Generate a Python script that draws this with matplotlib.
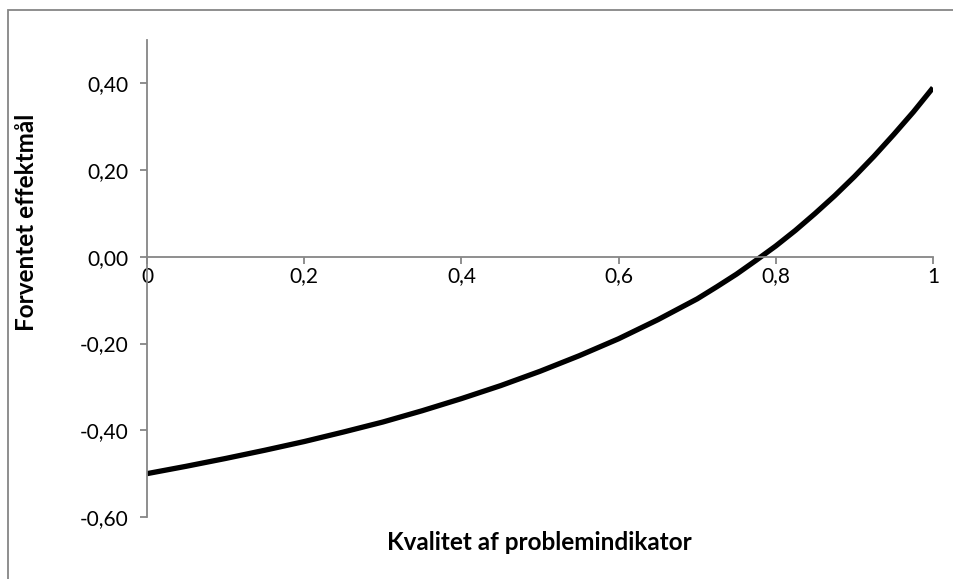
import matplotlib
matplotlib.use("Agg")
import matplotlib.pyplot as plt
from matplotlib.patches import Rectangle

# values
kvalitet = [0.00, 0.05, 0.10, 0.15, 0.20, 0.25, 0.30, 0.35, 0.40, 0.45, 0.50,
            0.55, 0.60, 0.65, 0.70, 0.725, 0.75, 0.775, 0.80, 0.825, 0.85,
            0.875, 0.90, 0.925, 0.95, 0.975, 1.00]
effekt = [-0.500, -0.483, -0.465, -0.446, -0.426, -0.404, -0.381, -0.355, -0.327,
          -0.297, -0.264, -0.228, -0.189, -0.145, -0.097, -0.069, -0.040, -0.008,
          0.025, 0.061, 0.100, 0.141, 0.185, 0.232, 0.282, 0.334, 0.390]

x_ticks = [0, 0.2, 0.4, 0.6, 0.8, 1.0]
x_labels = ["0", "0,2", "0,4", "0,6", "0,8", "1"]
y_ticks = [-0.6, -0.4, -0.2, 0.0, 0.2, 0.4]
y_labels = ["-0,60", "-0,40", "-0,20", "0,00", "0,20", "0,40"]

plt.rcParams["font.family"] = ["Lato", "DejaVu Sans"]
axis_grey = "#868686"

fig = plt.figure(figsize=(9.54, 5.79), dpi=100)
ax = fig.add_axes([147 / 954, 1 - 517 / 579, (933 - 147) / 954, (517 - 40) / 579])

ax.plot(kvalitet, effekt, color="black", linewidth=3.8,
        solid_capstyle="butt", solid_joinstyle="round")

ax.set_xlim(0, 1)
ax.set_ylim(-0.6, 0.5)

ax.spines["top"].set_visible(False)
ax.spines["right"].set_visible(False)
ax.spines["bottom"].set_position(("data", 0))
for s in ["left", "bottom"]:
    ax.spines[s].set_color(axis_grey)
    ax.spines[s].set_linewidth(1.3)

ax.set_xticks(x_ticks)
ax.set_xticklabels(x_labels)
ax.set_yticks(y_ticks)
ax.set_yticklabels(y_labels)
ax.tick_params(axis="both", direction="out", length=5, width=1.3,
               color=axis_grey, labelsize=15, labelcolor="black")
ax.tick_params(axis="x", pad=2)
ax.tick_params(axis="y", pad=8)
ax.set_facecolor("none")

fig.text(539 / 954, 1 - 543 / 579, "Kvalitet af problemindikator",
         ha="center", va="center", fontsize=17.5, fontweight="bold")
fig.text(27 / 954, 1 - 222 / 579, "Forventet effektmål", rotation=90,
         ha="center", va="center", fontsize=17.5, fontweight="bold")

# chart frame
fig.patches.append(Rectangle((8 / 954, -0.05), 1.2, 1 - 10 / 579 + 0.05,
                             transform=fig.transFigure, fill=False,
                             edgecolor=axis_grey, linewidth=1.3))

plt.savefig("out.png", dpi=100)
